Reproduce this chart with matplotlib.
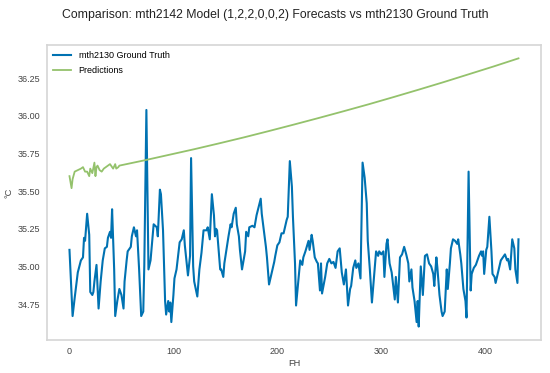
import matplotlib
matplotlib.use("Agg")
import matplotlib.pyplot as plt

# Ground truth
truth_fh = [0, 3, 5, 8, 11, 13, 14, 15, 17, 19, 20, 22, 23, 24, 26, 28, 30, 32, 34, 36,
            37, 39, 40, 41, 43, 44, 46, 48, 50, 52, 53, 55, 56, 59, 60, 62, 64, 65, 67, 69,
            71, 72, 74, 76, 78, 80, 81, 84, 85, 87, 88, 90, 92, 93, 95, 96, 97, 98, 100, 101,
            103, 104, 106, 108, 110, 111, 114, 116, 117, 119, 120, 123, 125, 127, 129, 132, 133, 135, 137, 139,
            140, 141, 142, 145, 146, 148, 149, 153, 155, 156, 158, 160, 161, 163, 164, 166, 169, 170, 172, 173,
            176, 178, 180, 184, 185, 187, 189, 190, 192, 194, 197, 198, 200, 202, 204, 206, 209, 210, 212, 214,
            215, 217, 218, 220, 222, 224, 225, 227, 230, 231, 233, 234, 236, 238, 239, 241, 242, 243, 246, 248,
            250, 252, 254, 256, 258, 260, 262, 264, 266, 268, 270, 271, 273, 275, 276, 278, 280, 282, 284, 286,
            287, 289, 291, 293, 295, 297, 298, 300, 302, 303, 305, 306, 308, 310, 311, 313, 314, 316, 318, 320,
            322, 324, 326, 327, 329, 330, 332, 334, 335, 336, 338, 340, 342, 344, 346, 348, 350, 351, 353, 354,
            356, 358, 359, 361, 363, 364, 366, 367, 369, 371, 373, 374, 376, 377, 379, 381, 382, 384, 386, 387,
            389, 391, 392, 394, 396, 397, 398, 399, 401, 402, 404, 406, 407, 409, 410, 412, 415, 417, 419, 421,
            422, 424, 426, 428, 429, 431, 432]
truth_temp = [35.11, 34.67, 34.79, 34.96, 35.04, 35.06, 35.19, 35.17, 35.35, 35.21, 34.83, 34.81, 34.83, 34.90, 35.01, 34.72, 34.90, 35.04, 35.12, 35.13,
              35.19, 35.23, 35.19, 35.38, 34.98, 34.67, 34.77, 34.85, 34.81, 34.72, 34.90, 35.04, 35.10, 35.13, 35.20, 35.26, 35.20, 35.24, 34.98, 34.67,
              34.70, 35.01, 36.04, 34.98, 35.04, 35.20, 35.28, 35.26, 35.20, 35.51, 35.48, 35.24, 34.77, 34.68, 34.77, 34.70, 34.76, 34.63, 34.81, 34.92,
              34.98, 35.04, 35.16, 35.18, 35.24, 35.14, 34.94, 35.07, 35.72, 35.00, 34.90, 34.80, 34.98, 35.09, 35.24, 35.24, 35.26, 35.18, 35.48, 35.34,
              35.20, 35.25, 35.24, 34.98, 34.98, 34.93, 35.02, 35.20, 35.28, 35.26, 35.35, 35.39, 35.28, 35.20, 35.11, 34.98, 35.10, 35.23, 35.20, 35.26,
              35.27, 35.26, 35.34, 35.45, 35.35, 35.24, 35.13, 35.06, 34.88, 34.94, 35.03, 35.07, 35.14, 35.16, 35.22, 35.22, 35.31, 35.33, 35.70, 35.53,
              35.33, 35.02, 34.74, 34.89, 35.04, 35.01, 35.06, 35.10, 35.17, 35.11, 35.21, 35.17, 35.06, 35.03, 35.02, 34.84, 35.02, 34.82, 34.93, 35.02,
              35.05, 35.02, 35.03, 34.99, 35.10, 35.12, 34.96, 34.88, 34.98, 34.74, 34.85, 34.87, 34.99, 35.04, 34.99, 35.02, 34.92, 35.69, 35.59, 35.42,
              35.17, 34.98, 34.76, 34.93, 35.10, 35.07, 35.10, 35.08, 35.10, 34.93, 35.15, 35.18, 35.02, 34.96, 34.90, 34.78, 34.93, 34.76, 35.06, 35.08,
              35.13, 35.08, 35.02, 34.90, 34.98, 34.86, 34.77, 34.63, 34.77, 34.60, 35.00, 34.81, 35.07, 35.08, 35.02, 35.00, 34.95, 34.87, 35.06, 34.99,
              34.81, 34.70, 34.67, 34.70, 34.98, 34.85, 35.02, 35.12, 35.18, 35.17, 35.15, 35.18, 35.08, 35.02, 34.85, 34.77, 34.66, 35.63, 34.84, 34.95,
              34.99, 35.01, 35.03, 35.07, 35.10, 35.07, 35.10, 34.95, 35.11, 35.13, 35.33, 35.10, 34.95, 34.93, 34.89, 34.95, 35.04, 35.06, 35.08, 35.04,
              35.05, 34.98, 35.18, 35.12, 34.98, 34.89, 35.18]

# Model predictions
pred_fh = [0, 2, 3, 5, 8, 11, 13, 15, 17, 19, 20, 22, 24, 25, 26, 27, 29, 31, 33, 35,
           37, 39, 41, 42, 44, 45, 47, 48, 72, 96, 120, 144, 168, 192, 216, 240, 264, 288, 312, 336,
           360, 384, 408, 432]
pred_temp = [35.60, 35.52, 35.58, 35.63, 35.64, 35.65, 35.66, 35.63, 35.63, 35.60, 35.65, 35.62, 35.69, 35.60, 35.66, 35.67, 35.64, 35.63, 35.65, 35.66,
             35.67, 35.68, 35.66, 35.65, 35.68, 35.65, 35.66, 35.67, 35.705, 35.742, 35.779, 35.818, 35.858, 35.900, 35.943, 35.987, 36.032, 36.078, 36.126, 36.175,
             36.225, 36.277, 36.329, 36.383]

plt.rcParams['font.family'] = ['Liberation Sans', 'DejaVu Sans']

fig = plt.figure(figsize=(5.5, 3.73), dpi=100)
ax = fig.add_axes([0.0855, 0.0885, 0.898, 0.791])

ax.plot(truth_fh, truth_temp, color='#0072B2', lw=1.5, label='mth2130 Ground Truth')
ax.plot(pred_fh, pred_temp, color='#94C26C', lw=1.3, label='Predictions')

ax.set_yticks([34.75, 35.00, 35.25, 35.50, 35.75, 36.00, 36.25])
ax.set_xticks([0, 100, 200, 300, 400])
ax.tick_params(length=0, labelsize=6.5, labelcolor='#444444', pad=5)
for s in ax.spines.values():
    s.set_color('#d5d5d5')
    s.set_linewidth(1.2)

ax.set_xlabel('FH', fontsize=6.7, color='#444444', labelpad=2)
ax.set_ylabel('°C', fontsize=6.7, color='#444444', labelpad=3)
fig.suptitle('Comparison: mth2142 Model (1,2,2,0,0,2) Forecasts vs mth2130 Ground Truth',
             fontsize=8.8, color='#222222', y=0.975)

leg = ax.legend(loc='upper left', frameon=False, fontsize=6.5, handlelength=2.0,
                borderaxespad=0.3, labelspacing=0.6)

fig.savefig('out.png', dpi=100)
